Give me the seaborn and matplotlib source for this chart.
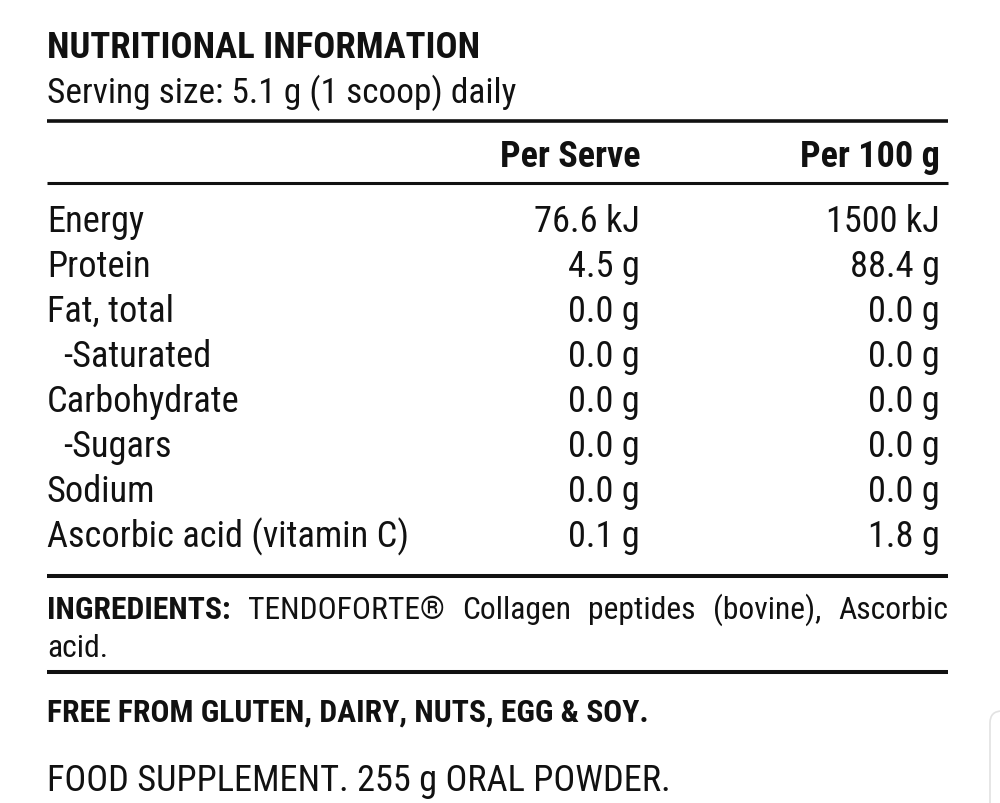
import matplotlib
matplotlib.use("Agg")
import matplotlib.pyplot as plt
from matplotlib import font_manager
from matplotlib.patches import FancyBboxPatch
import seaborn as sns

# label content
title = "NUTRITIONAL INFORMATION"
serving = "Serving size: 5.1 g (1 scoop) daily"
col_headers = ["Per Serve", "Per 100 g"]
nutrients = ["Energy", "Protein", "Fat, total", "-Saturated", "Carbohydrate",
             "-Sugars", "Sodium", "Ascorbic acid (vitamin C)"]
sub_item = [False, False, False, True, False, True, False, False]
per_serve = ["76.6 kJ", "4.5 g", "0.0 g", "0.0 g", "0.0 g", "0.0 g", "0.0 g", "0.1 g"]
per_100g = ["1500 kJ", "88.4 g", "0.0 g", "0.0 g", "0.0 g", "0.0 g", "0.0 g", "1.8 g"]
ingr_head = "INGREDIENTS:"
ingr_words = ["TENDOFORTE®", "Collagen", "peptides", "(bovine),", "Ascorbic"]
ingr_tail = "acid."
free_from = "FREE FROM GLUTEN, DAIRY, NUTS, EGG & SOY."
footer = "FOOD SUPPLEMENT. 255 g ORAL POWDER."

sns.set_theme(style="white")
installed = {f.name for f in font_manager.fontManager.ttflist}
fam = next(f for f in ["Roboto Condensed", "Liberation Sans Narrow", "Roboto", "DejaVu Sans"]
           if f in installed)
plt.rcParams["font.family"] = [fam, "DejaVu Sans"]

fig = plt.figure(figsize=(10, 8.04), dpi=100)
ax = fig.add_axes([0, 0, 1, 1])
ax.set_xlim(0, 1000)
ax.set_ylim(804, 0)
ax.axis("off")

ink = "#111111"
left, right = 47, 948
fs = 26.2

ax.text(left, 58, title, fontsize=26.5, fontweight="bold", color=ink, va="baseline")
ax.text(left, 103, serving, fontsize=25.5, color=ink, va="baseline")

for y, lw in [(122, 2.6), (184, 2.2), (577, 2.9), (673, 2.9)]:
    ax.plot([left, right], [y, y], color=ink, lw=lw, solid_capstyle="butt")

col_x = [640, 940]
for x, h in zip(col_x, col_headers):
    ax.text(x, 167, h, fontsize=26, fontweight="bold", color=ink, ha="right", va="baseline")

for i, (name, sub, a, b) in enumerate(zip(nutrients, sub_item, per_serve, per_100g)):
    y = 232 + 45 * i
    ax.text(left + (16 if sub else 0), y, name, fontsize=fs, color=ink, va="baseline")
    ax.text(col_x[0], y, a, fontsize=fs, color=ink, ha="right", va="baseline")
    ax.text(col_x[1], y, b, fontsize=fs, color=ink, ha="right", va="baseline")

# justified ingredients line
fig.canvas.draw()
r = fig.canvas.get_renderer()
inv = ax.transData.inverted()
fs_i = 22.8
items = [ax.text(left, 619, ingr_head, fontsize=fs_i, fontweight="bold", color=ink, va="baseline")]
items += [ax.text(0, 619, w, fontsize=fs_i, color=ink, va="baseline") for w in ingr_words]
widths = []
for t in items:
    bb = t.get_window_extent(r)
    (x0, _), (x1, _) = inv.transform([(bb.x0, 0), (bb.x1, 0)])
    widths.append(x1 - x0)
gap = (right - left - sum(widths)) / (len(items) - 1)
x = left
for t, w in zip(items, widths):
    t.set_x(x)
    x += w + gap
ax.text(left, 657, ingr_tail, fontsize=fs_i, color=ink, va="baseline")

ax.text(left, 722, free_from, fontsize=22.8, fontweight="bold", color=ink, va="baseline")
ax.text(left, 791, footer, fontsize=26.2, color=ink, va="baseline")

# faint edge of a card peeking in at the lower right
ax.add_patch(FancyBboxPatch((990, 712), 60, 140, boxstyle="round,pad=0,rounding_size=12",
                            fc="white", ec="#e2e2e2", lw=1.2))

fig.savefig("out.png", dpi=100, facecolor="white")
